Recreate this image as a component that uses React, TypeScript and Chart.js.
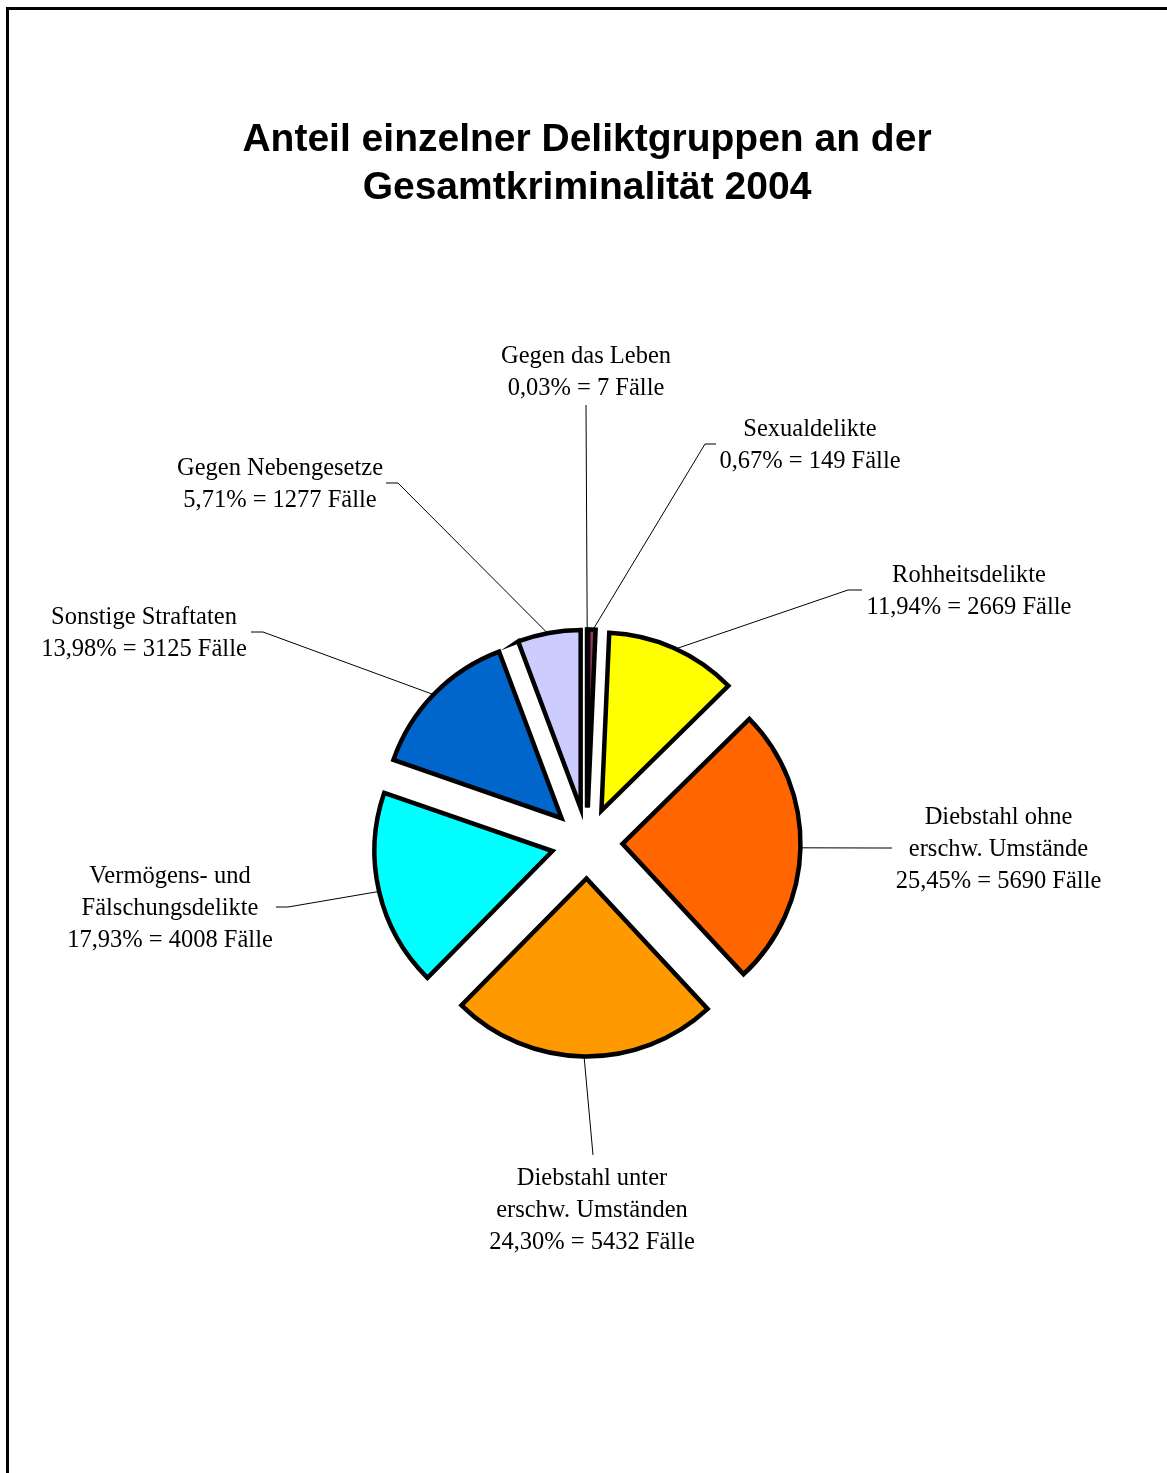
import React, { useEffect, useRef } from "react";
import { Chart, registerables } from "chart.js";

Chart.register(...registerables);

// ---------- data ----------
const TITLE_LINES = ["Anteil einzelner Deliktgruppen an der", "Gesamtkriminalität 2004"];
const CATEGORIES = [
  "Gegen das Leben",
  "Sexualdelikte",
  "Rohheitsdelikte",
  "Diebstahl ohne\nerschw. Umstände",
  "Diebstahl unter\nerschw. Umständen",
  "Vermögens- und\nFälschungsdelikte",
  "Sonstige Straftaten",
  "Gegen Nebengesetze",
];
const CASES = [7, 149, 2669, 5690, 5432, 4008, 3125, 1277];
const COLORS = ["#333399", "#993366", "#FFFF00", "#FF6600", "#FF9900", "#00FFFF", "#0066CC", "#CCCCFF"];

// ---------- layout (relative to pie centre) ----------
// tx/ty: label text centre x and first line centre y; ex/ey: leader elbow; hx: end of horizontal stub
const LABEL_LAYOUT = [
  { tx: -1, ty: -486, ex: -1, ey: -438, hx: -1 },
  { tx: 223, ty: -413, ex: 118, ey: -399, hx: 129 },
  { tx: 382, ty: -267, ex: 261, ey: -253, hx: 275 },
  { tx: 411.5, ty: -25, ex: 293, ey: 5, hx: 305 },
  { tx: 5, ty: 336, ex: 6, ey: 312, hx: 6 },
  { tx: -417, ty: 34, ex: -299, ey: 64, hx: -311 },
  { tx: -443, ty: -225, ex: -324, ey: -211, hx: -336 },
  { tx: -307, ty: -374, ex: -189, ey: -360, hx: -201 },
];
const EXPLODE = 35.5;
const PIE_RADIUS = 178;
const LABEL_FONT = "24.5px 'Liberation Serif', 'Times New Roman', serif";
const LABEL_LINE = 32;

const total = CASES.reduce((a, b) => a + b, 0);
const pctText = (v: number) => ((v / total) * 100).toFixed(2).replace(".", ",") + "% = " + v + " Fälle";

const explodePlugin = {
  id: "explodeSlices",
  afterDatasetUpdate(chart: any, args: any) {
    const meta = chart.getDatasetMeta(args.index);
    const ca = chart.chartArea;
    (chart as any)._pieCentre = { x: (ca.left + ca.right) / 2, y: (ca.top + ca.bottom) / 2 };
    meta.data.forEach((arc: any) => {
      const mid = (arc.startAngle + arc.endAngle) / 2;
      arc.x += Math.cos(mid) * EXPLODE;
      arc.y += Math.sin(mid) * EXPLODE;
    });
  },
};

const labelPlugin = {
  id: "pieLabels",
  afterDatasetsDraw(chart: any) {
    const ctx = chart.ctx as CanvasRenderingContext2D;
    const meta = chart.getDatasetMeta(0);
    const c = (chart as any)._pieCentre;
    if (!c) return;
    ctx.save();
    meta.data.forEach((arc: any, i: number) => {
      const lay = LABEL_LAYOUT[i];
      const mid = (arc.startAngle + arc.endAngle) / 2;
      const r = arc.outerRadius - 2;
      const sx = arc.x + Math.cos(mid) * r;
      const sy = arc.y + Math.sin(mid) * r;
      ctx.strokeStyle = "#000";
      ctx.lineWidth = 1;
      ctx.beginPath();
      ctx.moveTo(sx, sy);
      ctx.lineTo(c.x + lay.ex, c.y + lay.ey);
      ctx.lineTo(c.x + lay.hx, c.y + lay.ey);
      ctx.stroke();

      const lines = CATEGORIES[i].split("\n").concat([pctText(CASES[i])]);
      ctx.fillStyle = "#000";
      ctx.font = LABEL_FONT;
      ctx.textAlign = "center";
      ctx.textBaseline = "middle";
      lines.forEach((ln, k) => {
        ctx.fillText(ln, c.x + lay.tx, c.y + lay.ty + k * LABEL_LINE);
      });
    });
    ctx.restore();
  },
};

export default function App() {
  const ref = useRef<HTMLCanvasElement | null>(null);
  useEffect(() => {
    if (!ref.current) return;
    const chart = new Chart(ref.current, {
      type: "pie",
      data: {
        labels: CATEGORIES,
        datasets: [
          {
            data: CASES,
            backgroundColor: COLORS,
            borderColor: "#000000",
            borderWidth: 4.5,
            borderJoinStyle: "miter",
            radius: PIE_RADIUS,
          } as any,
        ],
      },
      options: {
        responsive: false,
        animation: false,
        events: [],
        layout: { padding: { left: 7, right: 0, top: 0, bottom: 8.5 } },
        plugins: {
          legend: { display: false },
          tooltip: { enabled: false },
          title: {
            display: true,
            text: TITLE_LINES,
            color: "#000",
            font: { family: "'Liberation Sans', Arial, sans-serif", size: 39, weight: "bold", lineHeight: 48 / 39 },
            padding: { top: 108.5, bottom: 17 },
          },
        },
      } as any,
      plugins: [explodePlugin, labelPlugin],
    });
    return () => chart.destroy();
  }, []);

  return (
    <div style={{ position: "relative", width: 1151, height: 1457 }}>
      <canvas ref={ref} width={1151} height={1457} style={{ display: "block" }} />
      <div
        style={{
          position: "fixed",
          left: 6,
          top: 7,
          right: -10,
          bottom: -10,
          borderTop: "3px solid #000",
          borderLeft: "3px solid #000",
          pointerEvents: "none",
        }}
      />
    </div>
  );
}
